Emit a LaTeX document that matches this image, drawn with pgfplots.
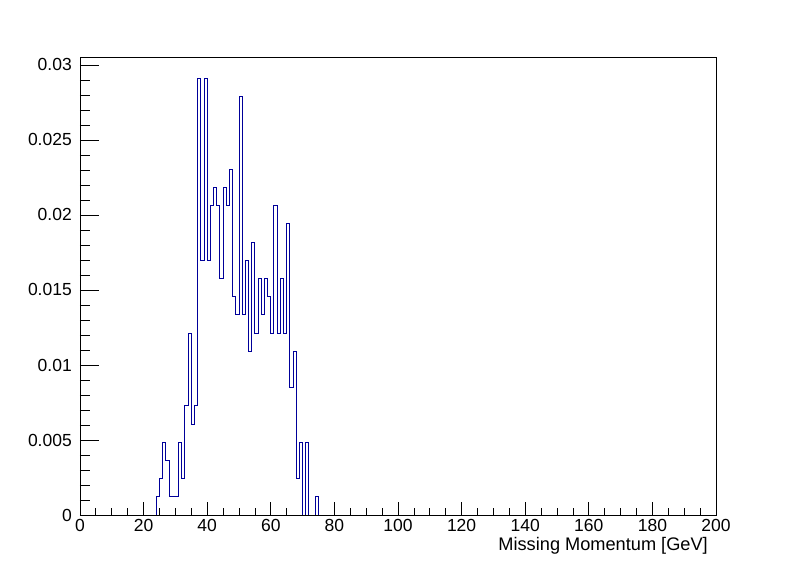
\documentclass[border=0pt]{standalone}
\usepackage{fontspec}
\setmainfont{Liberation Sans}
\usepackage{pgfplots}
\pgfplotsset{compat=1.18}
\definecolor{rootblue}{RGB}{0,0,153}
\begin{document}
\begin{tikzpicture}[font=\fontsize{17.5bp}{21bp}\selectfont]
\useasboundingbox (-80bp,-57bp) rectangle (716bp,515bp);
\begin{axis}[
  at={(0,0)}, anchor=south west,
  scale only axis, width=636bp, height=458bp,
  xmin=0, xmax=200, ymin=0, ymax=0.03053,
  axis line style={line width=0.8bp},
  xtick={0,20,...,200},
  xticklabels={0,20,40,60,80,100,120,140,160,180,200},
  ytick={0,0.005,0.01,0.015,0.02,0.025,0.03},
  yticklabels={0,0.005,0.01,0.015,0.02,0.025,0.03},
  minor x tick num=3, minor y tick num=4,
  tick pos=left, tick align=inside,
  major tick length=13bp, minor tick length=7bp,
  tick style={black, line width=0.8bp},
  ytick style={/pgfplots/major tick length=19bp, /pgfplots/minor tick length=10bp},
  tick label style={font=\fontsize{17.5bp}{21bp}\selectfont},
  xticklabel style={anchor=north, inner sep=0pt, yshift=-4.5bp},
  yticklabel style={anchor=east, inner sep=0pt, xshift=-8bp},
  scaled y ticks=false,
  xlabel={Missing Momentum [GeV]},
  xlabel style={font=\fontsize{18.2bp}{22bp}\selectfont, at={(axis description cs:1,0)}, anchor=north east, inner sep=0pt, yshift=-22bp, xshift=-8bp},
]
\addplot[const plot mark left, rootblue, line width=1bp] coordinates {
(23,0)
(24,0.001213) (25,0.002426) (26,0.004852) (27,0.003639) (28,0.001213)
(29,0.001213) (30,0.001213) (31,0.004852) (32,0.002426) (33,0.007278)
(34,0.01213) (35,0.006065) (36,0.007278) (37,0.029112) (38,0.016982)
(39,0.029112) (40,0.016982) (41,0.020621) (42,0.021834) (43,0.020621)
(44,0.015769) (45,0.021834) (46,0.020621) (47,0.023047) (48,0.014556)
(49,0.013343) (50,0.027899) (51,0.013343) (52,0.016982) (53,0.010917)
(54,0.018195) (55,0.01213) (56,0.015769) (57,0.013343) (58,0.015769)
(59,0.014556) (60,0.01213) (61,0.020621) (62,0.01213) (63,0.015769)
(64,0.01213) (65,0.019408) (66,0.008491) (67,0.010917) (68,0.002426)
(69,0.004852) (70,0) (71,0.004852) (72,0) (73,0) (74,0.001213)
(75,0) (76,0)
};
\end{axis}
\end{tikzpicture}
\end{document}
